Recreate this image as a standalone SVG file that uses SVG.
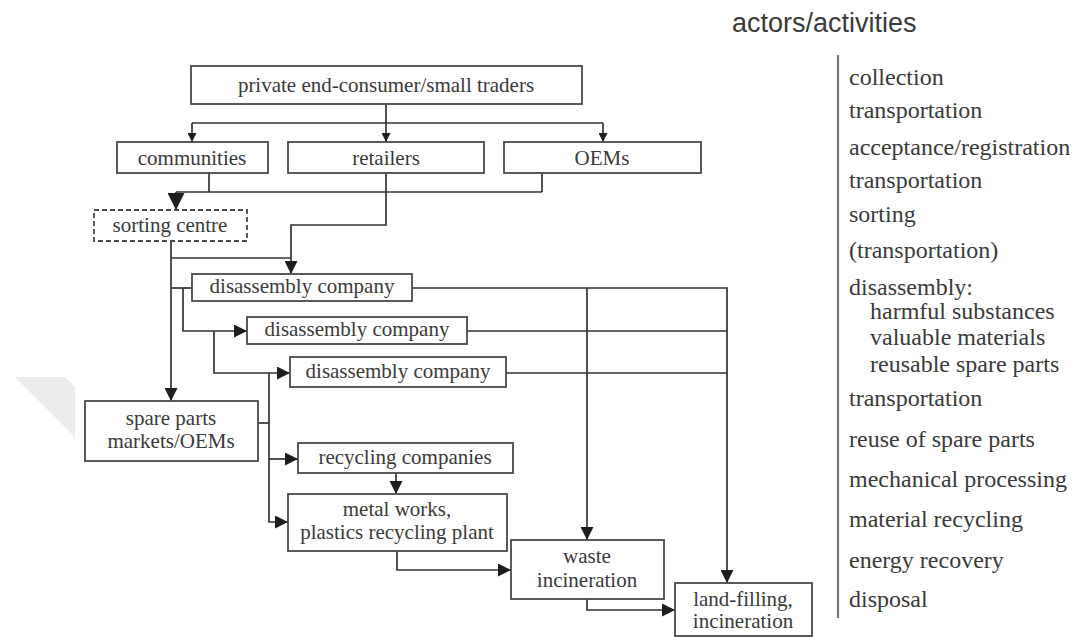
<svg xmlns="http://www.w3.org/2000/svg" width="1080" height="640" viewBox="0 0 1080 640">
  <style>
    .box { fill: #ffffff; stroke: #4a4a4a; stroke-width: 1.8; }
    .dash { stroke-dasharray: 5 3; }
    .lbl { font-family: "Liberation Serif", "Times New Roman", serif; font-size: 21px; fill: #3a3a3a; text-anchor: middle; }
    .act { font-family: "Liberation Serif", "Times New Roman", serif; font-size: 24px; fill: #3a3a3a; }
    .title { font-family: "Liberation Sans", Arial, sans-serif; font-size: 27px; fill: #3a3a3a; }
    .wire { fill: none; stroke: #333333; stroke-width: 1.7; }
  </style>
  <defs>
    <marker id="arr" viewBox="0 0 10 10" refX="10" refY="5" markerWidth="13" markerHeight="13" markerUnits="userSpaceOnUse" orient="auto">
      <path d="M0,0 L10,5 L0,10 z" fill="#1e1e1e"/>
    </marker>
    <marker id="arrS" viewBox="0 0 10 10" refX="10" refY="5" markerWidth="9" markerHeight="9" markerUnits="userSpaceOnUse" orient="auto">
      <path d="M0,0 L10,5 L0,10 z" fill="#1e1e1e"/>
    </marker>
    <marker id="arrL" viewBox="0 0 10 10" refX="10" refY="5" markerWidth="17" markerHeight="17" markerUnits="userSpaceOnUse" orient="auto">
      <path d="M0,0 L10,5 L0,10 z" fill="#1e1e1e"/>
    </marker>
  </defs>

  <rect width="1080" height="640" fill="#ffffff"/>

  <!-- faint corner mark on the left margin -->
  <polygon points="15,377 65,377 75,387 75,437" fill="#ececec"/>

  <!-- connectors -->
  <g id="connectors" class="wire">
    <!-- consumer to collection points -->
    <path d="M386,104 V123"/>
    <path d="M192,123 H603"/>
    <path d="M192,123 V142" marker-end="url(#arrS)"/>
    <path d="M386,123 V142" marker-end="url(#arrS)"/>
    <path d="M603,123 V142" marker-end="url(#arrS)"/>
    <!-- communities / OEMs to sorting centre -->
    <path d="M209,173 V192"/>
    <path d="M542,173 V192"/>
    <path d="M176,192 H542"/>
    <path d="M176,192 V210" marker-end="url(#arrL)"/>
    <!-- retailers to first disassembly company -->
    <path d="M386,173 V225 H291 V274" marker-end="url(#arr)"/>
    <!-- sorting centre outputs -->
    <path d="M171,241 V401" marker-end="url(#arr)"/>
    <path d="M171,258 H291"/>
    <path d="M171,288 H192"/>
    <path d="M183,288 V331 H247" marker-end="url(#arr)"/>
    <path d="M214,331 V373 H290" marker-end="url(#arr)"/>
    <!-- distribution trunk -->
    <path d="M269,373 V522 H288" marker-end="url(#arr)"/>
    <path d="M258,423 H269"/>
    <path d="M269,459 H298" marker-end="url(#arr)"/>
    <!-- recycling chain -->
    <path d="M396,473 V494" marker-end="url(#arr)"/>
    <path d="M397,551 V570 H511" marker-end="url(#arr)"/>
    <path d="M587,599 V610 H675" marker-end="url(#arr)"/>
    <!-- disassembly outputs to incineration and land-filling -->
    <path d="M412,288 H727 V583" marker-end="url(#arr)"/>
    <path d="M587,288 V540" marker-end="url(#arr)"/>
    <path d="M467,331 H727"/>
    <path d="M506,373 H727"/>
  </g>

  <!-- nodes -->
  <g id="consumer">
    <rect class="box" x="191" y="66" width="391" height="38"/>
    <text class="lbl" x="386" y="92">private end-consumer/small traders</text>
  </g>
  <g id="communities">
    <rect class="box" x="117" y="142" width="151" height="31"/>
    <text class="lbl" x="192" y="165">communities</text>
  </g>
  <g id="retailers">
    <rect class="box" x="288" y="142" width="196" height="31"/>
    <text class="lbl" x="386" y="165">retailers</text>
  </g>
  <g id="oems">
    <rect class="box" x="504" y="142" width="197" height="31"/>
    <text class="lbl" x="602" y="165">OEMs</text>
  </g>
  <g id="sorting-centre">
    <rect class="box dash" x="94" y="210" width="153" height="31"/>
    <text class="lbl" x="170" y="232">sorting centre</text>
  </g>
  <g id="disassembly-1">
    <rect class="box" x="192" y="274" width="220" height="27"/>
    <text class="lbl" x="302" y="293">disassembly company</text>
  </g>
  <g id="disassembly-2">
    <rect class="box" x="247" y="317" width="220" height="27"/>
    <text class="lbl" x="357" y="336">disassembly company</text>
  </g>
  <g id="disassembly-3">
    <rect class="box" x="290" y="357" width="216" height="30"/>
    <text class="lbl" x="398" y="378">disassembly company</text>
  </g>
  <g id="spare-parts">
    <rect class="box" x="85" y="401" width="173" height="60"/>
    <text class="lbl" x="171" y="425">spare parts</text>
    <text class="lbl" x="171" y="448">markets/OEMs</text>
  </g>
  <g id="recycling">
    <rect class="box" x="298" y="443" width="215" height="30"/>
    <text class="lbl" x="405" y="464">recycling companies</text>
  </g>
  <g id="metal-works">
    <rect class="box" x="288" y="494" width="219" height="57"/>
    <text class="lbl" x="397" y="516">metal works,</text>
    <text class="lbl" x="397" y="539">plastics recycling plant</text>
  </g>
  <g id="waste-incineration">
    <rect class="box" x="511" y="540" width="153" height="59"/>
    <text class="lbl" x="587" y="563">waste</text>
    <text class="lbl" x="587" y="587">incineration</text>
  </g>
  <g id="land-filling">
    <rect class="box" x="675" y="583" width="137" height="53"/>
    <text class="lbl" x="743" y="606">land-filling,</text>
    <text class="lbl" x="743" y="628">incineration</text>
  </g>

  <!-- activity column -->
  <g id="activities">
    <text class="title" x="732" y="32">actors/activities</text>
    <line x1="838" y1="55" x2="838" y2="618" stroke="#777777" stroke-width="2.2"/>
    <text class="act" x="849" y="85">collection</text>
    <text class="act" x="849" y="118">transportation</text>
    <text class="act" x="849" y="155">acceptance/registration</text>
    <text class="act" x="849" y="188">transportation</text>
    <text class="act" x="849" y="222">sorting</text>
    <text class="act" x="849" y="258">(transportation)</text>
    <text class="act" x="849" y="295">disassembly:</text>
    <text class="act" x="870" y="319">harmful substances</text>
    <text class="act" x="870" y="345">valuable materials</text>
    <text class="act" x="870" y="372">reusable spare parts</text>
    <text class="act" x="849" y="406">transportation</text>
    <text class="act" x="849" y="447">reuse of spare parts</text>
    <text class="act" x="849" y="487">mechanical processing</text>
    <text class="act" x="849" y="527">material recycling</text>
    <text class="act" x="849" y="568">energy recovery</text>
    <text class="act" x="849" y="607">disposal</text>
  </g>
</svg>
